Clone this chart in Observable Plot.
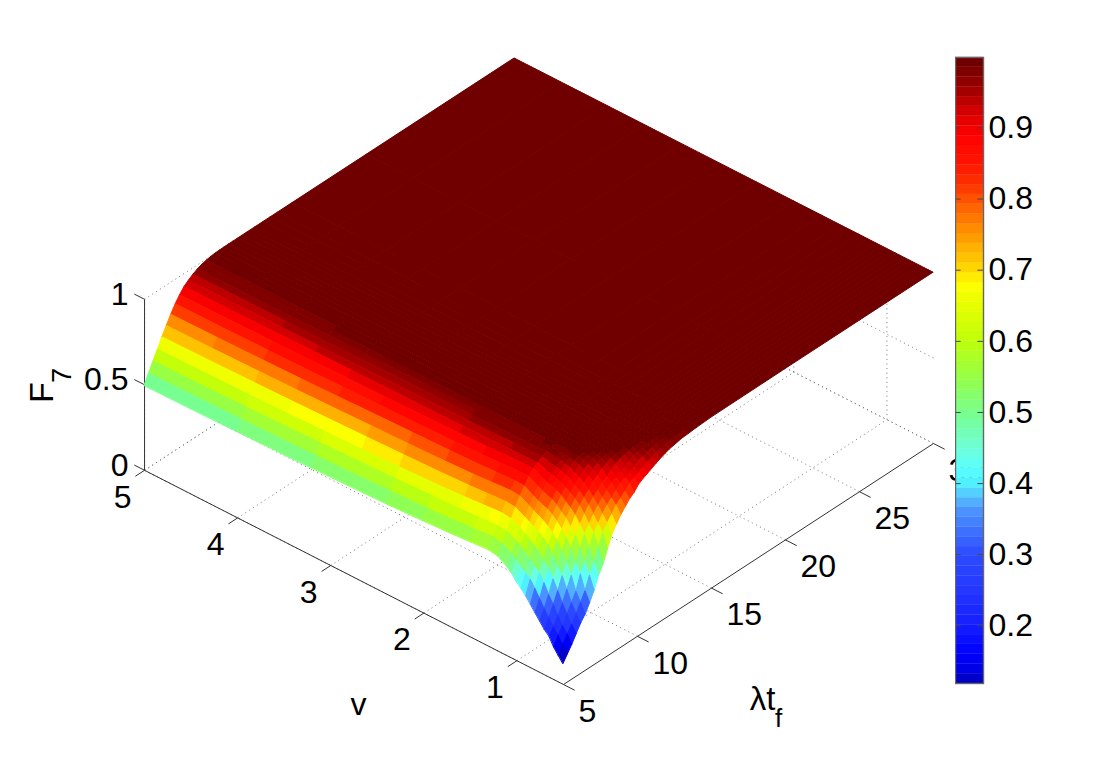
<!DOCTYPE html>
<html><head><meta charset="utf-8">
<script src="https://cdn.jsdelivr.net/npm/d3@7"></script>
<script src="https://cdn.jsdelivr.net/npm/@observablehq/plot@0.6"></script>
<style>html,body{margin:0;background:#fff}#c{position:relative;width:1110px;height:770px;overflow:hidden}#c svg{display:block}#bar{position:absolute;left:955px;top:0}</style>
</head><body><div id="c"><div id="main"></div><div id="bar"></div></div>
<script>
// lambda*t_f samples (columns)
const tValues=[5,5.3,5.6,5.9,6.2,6.5,6.8,7.1,7.4,7.7,8,8.3,8.6,8.9,9.2,9.5,9.8,10.1,10.4,10.7,11,11.3,11.6,11.9,12.2,12.5,13,13.5,14,15,20,30];
// v samples (rows)
const vValues=[.5,.55,.6,.65,.7,.75,.8,.85,.9,.95,1,1.05,1.1,1.2,1.3,1.4,1.5,1.7,2,2.4,2.8,3.2,3.6,4,4.5,5];
// F7, one row per v; a row stops where it reaches the plateau
const plateau=.999;
const Frows=[
[.12,.16,.20,.245,.29,.325,.375,.43,.50,.55,.62,.69,.73,.77,.80,.83,.85,.88,.897,.91,.924,.937,.95,.96,.97,.975,.985,.988,.992,.997],
[.155,.20,.245,.285,.33,.38,.43,.505,.56,.635,.70,.74,.775,.81,.835,.86,.89,.905,.918,.93,.945,.957,.968,.975,.981,.986,.99,.994,.996],
[.19,.24,.28,.33,.38,.43,.515,.565,.635,.70,.74,.78,.815,.84,.865,.892,.907,.922,.937,.952,.964,.973,.98,.985,.989,.992,.994,.996,.998],
[.24,.275,.325,.38,.445,.51,.565,.635,.70,.74,.78,.815,.845,.87,.895,.91,.927,.94,.957,.97,.978,.985,.988,.99,.993,.995,.997,.998],
[.265,.315,.375,.44,.51,.565,.635,.695,.74,.785,.82,.85,.875,.90,.92,.94,.96,.973,.982,.986,.99,.993,.995,.996,.997,.998],
[.30,.355,.42,.495,.55,.625,.685,.73,.78,.82,.85,.88,.91,.93,.95,.968,.98,.987,.99,.993,.995,.997,.998],
[.335,.40,.475,.535,.605,.67,.72,.765,.81,.845,.875,.905,.93,.95,.97,.982,.988,.992,.995,.997,.998],
[.37,.445,.52,.575,.645,.70,.75,.79,.83,.865,.895,.925,.95,.97,.982,.988,.992,.995,.997,.998],
[.405,.485,.54,.61,.675,.725,.775,.815,.855,.885,.915,.94,.965,.98,.988,.992,.995,.997,.998],
[.435,.505,.57,.635,.695,.745,.795,.835,.87,.90,.93,.955,.975,.986,.991,.994,.996,.998],
[.46,.525,.59,.655,.71,.76,.805,.845,.88,.91,.94,.963,.98,.988,.992,.995,.997,.998],
[.495,.555,.62,.675,.725,.775,.815,.855,.89,.92,.945,.968,.983,.99,.993,.996,.998],
[.52,.58,.64,.695,.74,.79,.83,.87,.90,.925,.95,.972,.985,.99,.994,.997,.998],
[.555,.61,.665,.72,.77,.82,.862,.90,.93,.948,.966,.98,.988,.992,.996,.998],
[.565,.622,.672,.728,.776,.824,.864,.90,.93,.946,.964,.976,.985,.991,.996,.998],
[.561,.618,.668,.724,.773,.821,.862,.898,.928,.945,.963,.975,.985,.991,.995,.997,.998],
[.556,.612,.663,.719,.768,.816,.858,.894,.925,.943,.961,.974,.984,.99,.995,.997,.998],
[.548,.603,.655,.71,.76,.808,.852,.888,.92,.94,.958,.972,.982,.989,.994,.997,.998],
[.538,.592,.65,.70,.752,.80,.846,.882,.915,.937,.955,.97,.981,.989,.993,.997,.998],
[.527,.583,.64,.69,.744,.792,.84,.876,.91,.935,.952,.968,.979,.988,.993,.996,.998],
[.52,.574,.632,.681,.737,.786,.834,.872,.906,.934,.95,.967,.978,.987,.992,.996,.998],
[.513,.567,.625,.675,.73,.779,.827,.867,.902,.931,.947,.965,.977,.986,.992,.996,.997,.998],
[.507,.561,.618,.668,.724,.773,.821,.862,.898,.928,.945,.963,.975,.985,.991,.995,.997,.998],
[.503,.556,.612,.663,.719,.768,.816,.858,.894,.925,.943,.961,.974,.984,.99,.995,.997,.998],
[.498,.552,.607,.659,.714,.763,.811,.854,.89,.922,.941,.959,.973,.983,.99,.995,.997,.998],
[.495,.548,.603,.655,.71,.76,.808,.852,.888,.92,.94,.958,.972,.982,.989,.994,.997,.998]
];
const vTicks=[1,2,3,4,5];
const tTicks=[5,10,15,20,25,30];
const zTicks=[0,.5,1];
const zLabels=["0","0.5","1"];
const barTicks=[.2,.3,.4,.5,.6,.7,.8,.9];
const colorDomain=[.119,.999];
// colormap: [value, colour]
const colorStops=[[.119,"#0000b8"],[.14,"#0000e8"],[.16,"#0000ff"],[.2,"#141eff"],[.25,"#2337ff"],[.3,"#2d4bff"],[.33,"#3c6eff"],[.36,"#4b91ff"],[.38,"#55beff"],[.4,"#50f0ff"],[.42,"#5affff"],[.45,"#6effd7"],[.5,"#78ff8c"],[.55,"#96ff46"],[.6,"#beff0a"],[.65,"#e6ff00"],[.68,"#ffff00"],[.695,"#ffe100"],[.72,"#ffbe00"],[.75,"#ff9600"],[.78,"#ff6e00"],[.82,"#ff3200"],[.85,"#ff1400"],[.89,"#ff0000"],[.91,"#e60000"],[.93,"#c80000"],[.96,"#960000"],[.999,"#680000"]];

const nLevels=64;
const step=(colorDomain[1]-colorDomain[0])/nLevels;
const ramp=d3.scaleLinear().domain(colorStops.map(d=>d[0])).range(colorStops.map(d=>d[1])).interpolate(d3.interpolateRgb);
const levels=d3.range(nLevels).map(i=>({lo:colorDomain[0]+i*step,hi:colorDomain[0]+(i+1)*step}));
levels.forEach(d=>d.mid=(d.lo+d.hi)/2);
const colorScale={type:"threshold",domain:levels.slice(1).map(d=>d.lo),range:levels.map(d=>ramp(d.mid))};

// MATLAB-style view of the three data axes on the page
const P=(v,t,z)=>({x:563+(t-5)*14.8-(v-.5)*93.1,y:684-(t-5)*9.64-(v-.5)*47.6-z*171});
const F=(i,j)=>Frows[i][j]??plateau;

const cells=[];let id=0;
for(let j=tValues.length-2;j>=0;j--)for(let i=vValues.length-2;i>=0;i--){
  const f=F(i,j),a=P(vValues[i],tValues[j],F(i,j)),b=P(vValues[i+1],tValues[j],F(i+1,j)),c=P(vValues[i],tValues[j+1],F(i,j+1)),e=P(vValues[i+1],tValues[j+1],F(i+1,j+1));
  cells.push({id,f,x1:a.x,y1:a.y,x2:b.x,y2:b.y},{id,f,x1:c.x,y1:c.y,x2:e.x,y2:e.y});id++;
}
const vMin=vValues[0],vMax=5,tMin=5,tMax=30;
const seg=(p,q)=>{const a=P(...p),b=P(...q);return {x1:a.x,y1:a.y,x2:b.x,y2:b.y}};
const grid=[
  ...vTicks.map(v=>seg([v,tMin,0],[v,tMax,0])),
  ...tTicks.map(t=>seg([vMin,t,0],[vMax,t,0])),
  ...zTicks.map(z=>seg([vMin,tMax,z],[vMax,tMax,z])),
  ...zTicks.map(z=>seg([vMax,tMin,z],[vMax,tMax,z])),
  ...vTicks.map(v=>seg([v,tMax,0],[v,tMax,1])),
  ...tTicks.map(t=>seg([vMax,t,0],[vMax,t,1]))
];
const axes=[
  seg([vMin,tMin,0],[vMax,tMin,0]),seg([vMin,tMin,0],[vMin,tMax,0]),seg([vMax,tMin,0],[vMax,tMin,1]),
  ...vTicks.map(v=>seg([v,tMin,0],[v,tMin-.62,0])),
  ...tTicks.map(t=>seg([vMin,t,0],[vMin-.12,t,0])),
  ...zTicks.map(z=>seg([vMax,tMin,z],[vMax+.11,tMin,z]))
];
const font="Liberation Sans, Arial, sans-serif";
const main=Plot.plot({width:1110,height:770,margin:0,
  x:{domain:[0,1110],range:[0,1110],axis:null},y:{domain:[0,770],range:[0,770],axis:null},
  color:colorScale,style:{fontFamily:font,background:"transparent"},
  marks:[
    Plot.link(grid,{x1:"x1",y1:"y1",x2:"x2",y2:"y2",stroke:"#777",strokeWidth:1,strokeDasharray:"1 3.6"}),
    Plot.link(axes,{x1:"x1",y1:"y1",x2:"x2",y2:"y2",stroke:"#333",strokeWidth:1}),
    Plot.area(cells,{x1:"x1",y1:"y1",x2:"x2",y2:"y2",z:"id",fill:"f",stroke:"f",strokeWidth:1}),
    Plot.text(vTicks,{x:d=>P(d,tMin,0).x,y:d=>P(d,tMin,0).y,text:d=>String(d),dx:-22,dy:27,fontSize:32,fill:"#000"}),
    Plot.text(tTicks,{x:d=>P(vMin,d,0).x,y:d=>P(vMin,d,0).y,text:d=>String(d),dx:15,dy:27,textAnchor:"start",fontSize:32,fill:"#000"}),
    Plot.text(zTicks,{x:d=>P(vMax,tMin,d).x,y:d=>P(vMax,tMin,d).y,text:(d,i)=>zLabels[i],dx:-16,dy:-5,textAnchor:"end",fontSize:32,fill:"#000"}),
    Plot.text(["F"],{x:()=>42,y:()=>392,text:d=>d,rotate:-90,fontSize:34,fill:"#000"}),
    Plot.text(["7"],{x:()=>62,y:()=>375,text:d=>d,rotate:-90,fontSize:27,fill:"#000"}),
    Plot.text(["v"],{x:()=>358,y:()=>704,text:d=>d,fontSize:32,fill:"#000"}),
    Plot.text(["λt"],{x:()=>762,y:()=>699,text:d=>d,fontSize:33,fill:"#000"}),
    Plot.text(["f"],{x:()=>778,y:()=>718,text:d=>d,fontSize:26,fill:"#000"})
  ]});
document.getElementById("main").appendChild(main);

const bar=Plot.plot({width:110,height:770,marginLeft:0,marginRight:82,marginTop:57,marginBottom:87,
  x:{domain:[0,1],axis:null},y:{domain:colorDomain,axis:null},
  color:colorScale,style:{fontFamily:font,background:"transparent"},
  marks:[
    Plot.rect(levels,{x1:0,x2:1,y1:"lo",y2:"hi",fill:"mid",stroke:"mid",strokeWidth:.3}),
    Plot.ruleY(barTicks,{x1:0,x2:.2,stroke:"#444",strokeWidth:1}),
    Plot.ruleY(barTicks,{x1:.8,x2:1,stroke:"#444",strokeWidth:1}),
    Plot.frame({stroke:"#666",strokeWidth:1.4}),
    Plot.axisY(barTicks,{anchor:"right",tickSize:0,tickPadding:5,tickFormat:d=>d.toFixed(1),fontSize:32,color:"#000",label:null})
  ]});
document.getElementById("bar").appendChild(bar);
</script></body></html>
